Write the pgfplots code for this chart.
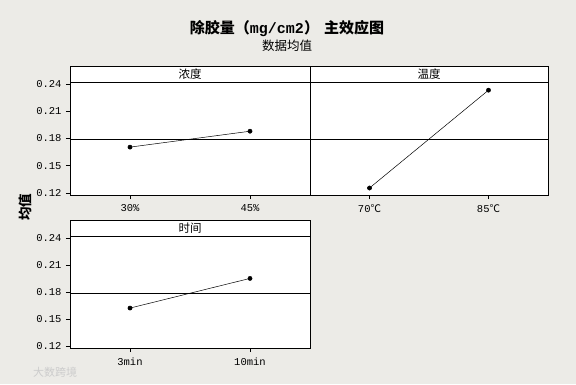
\documentclass[border=0pt]{standalone}
\usepackage{fontspec}
\usepackage{pgfplots}
\pgfplotsset{compat=1.18}
\setmainfont{Liberation Sans}
\newfontfamily\cjk{Noto Sans CJK SC}
\newfontfamily\mono{Liberation Mono}
\definecolor{bgc}{RGB}{236,235,231}
\pgfplotsset{
  panel/.style={
    scale only axis,
    axis background/.style={fill=white},
    xmin=0.5, xmax=2.5, ymin=0.1178, ymax=0.2598,
    xtick={1,2},
    tick pos=left, tick align=outside,
    major tick length=4pt,
    tick style={black, line width=0.5pt},
    axis line style={black, line width=0.6pt},
    ticklabel style={font=\mono\fontsize{10.5}{12}\selectfont, black},
    yticklabel style={xshift=-1pt},
    xticklabel style={yshift=-2pt},
    clip=false,
  },
  dat/.style={black, line width=0.5pt, mark=*, mark size=2.1pt, mark options={fill=black}},
  mean/.style={black, line width=0.6pt, no marks},
}
\begin{document}
\begin{tikzpicture}
\useasboundingbox (0pt,0pt) rectangle (576pt,384pt);
\fill[bgc] (0pt,0pt) rectangle (576pt,384pt);
% title
\node[font=\cjk\bfseries\fontsize{15}{17}\selectfont] at (287pt,355pt) {除胶量（{\mono\bfseries mg/cm2}）\hspace{5pt}主效应图};
\node[font=\cjk\fontsize{12.5}{14}\selectfont] at (287pt,338pt) {数据均值};
\node[font=\cjk\bfseries\fontsize{13.5}{15}\selectfont, rotate=90] at (25pt,177pt) {均值};
\node[font=\cjk\fontsize{11}{12}\selectfont, text=gray!40] at (55pt,12pt) {大数跨境};

% panel 1
\begin{axis}[panel, at={(70pt,189pt)}, anchor=south west, width=240pt, height=129pt,
  ytick={0.12,0.15,0.18,0.21,0.24}, yticklabels={0.12,0.15,0.18,0.21,0.24},
  xticklabels={30\%,45\%}]
\addplot[mean] coordinates {(0.5,0.1791) (2.5,0.1791)};
\addplot[dat] coordinates {(1,0.1705) (2,0.1880)};
\draw[black, line width=0.6pt] (axis cs:0.5,0.2422) -- (axis cs:2.5,0.2422);
\node[font=\cjk\fontsize{11.5}{13}\selectfont] at (axis cs:1.5,0.2510) {浓度};
\end{axis}

% panel 2
\begin{axis}[panel, at={(310pt,189pt)}, anchor=south west, width=238pt, height=129pt,
  ytick=\empty,
  xticklabels={{\mono 70}{\cjk ℃},{\mono 85}{\cjk ℃}}]
\addplot[mean] coordinates {(0.5,0.1791) (2.5,0.1791)};
\addplot[dat] coordinates {(1,0.1255) (2,0.2332)};
\draw[black, line width=0.6pt] (axis cs:0.5,0.2422) -- (axis cs:2.5,0.2422);
\node[font=\cjk\fontsize{11.5}{13}\selectfont] at (axis cs:1.5,0.2510) {温度};
\end{axis}

% panel 3
\begin{axis}[panel, at={(70pt,36pt)}, anchor=south west, width=240pt, height=128pt,
  ytick={0.12,0.15,0.18,0.21,0.24}, yticklabels={0.12,0.15,0.18,0.21,0.24},
  xticklabels={3min,10min}]
\addplot[mean] coordinates {(0.5,0.1786) (2.5,0.1786)};
\addplot[dat] coordinates {(1,0.1621) (2,0.1950)};
\draw[black, line width=0.6pt] (axis cs:0.5,0.2422) -- (axis cs:2.5,0.2422);
\node[font=\cjk\fontsize{11.5}{13}\selectfont] at (axis cs:1.5,0.2510) {时间};
\end{axis}
\end{tikzpicture}
\end{document}
